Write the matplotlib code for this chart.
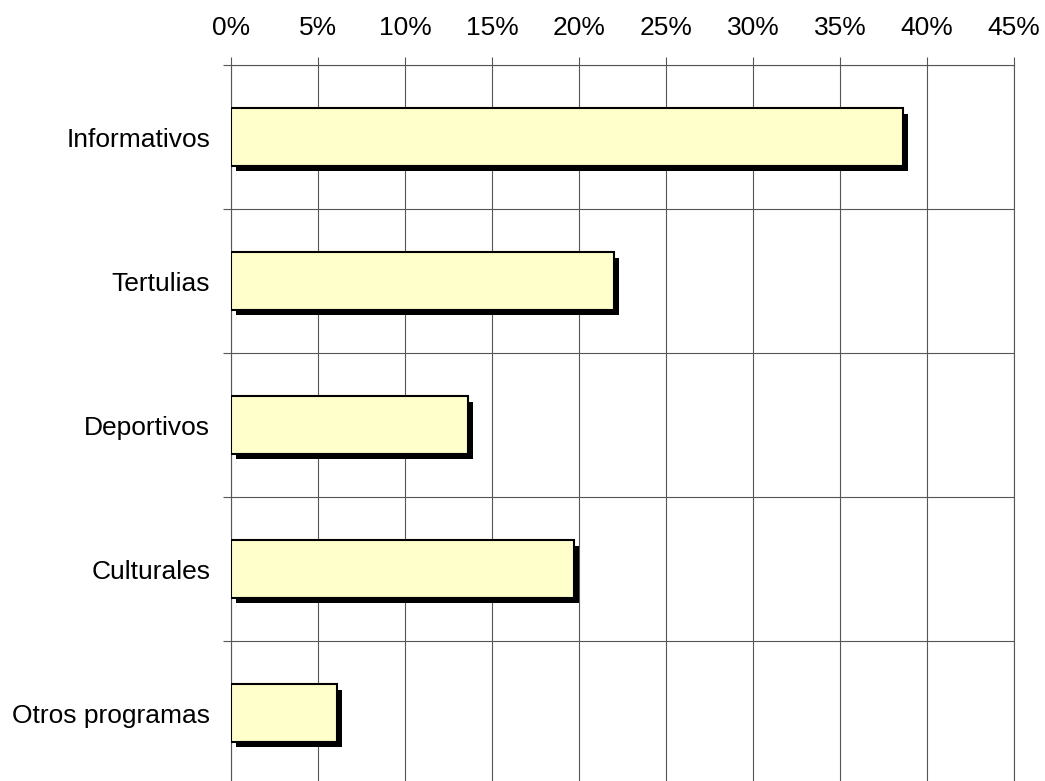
import numpy as np
import matplotlib
matplotlib.use('Agg')
import matplotlib.pyplot as plt
import matplotlib.patheffects as pe
from matplotlib.ticker import FixedLocator

plt.rcParams['font.family'] = ['Liberation Sans', 'DejaVu Sans']

# datos
categorias = ['Informativos', 'Tertulias', 'Deportivos', 'Culturales', 'Otros programas']
porcentajes = [38.6, 22.0, 13.6, 19.7, 6.1]
ticks_x = [0, 5, 10, 15, 20, 25, 30, 35, 40, 45]
etiquetas_x = [f'{t}%' for t in ticks_x]

W, H = 1045, 781
fig = plt.figure(figsize=(W / 100, H / 100), dpi=100)
ax = fig.add_axes([231 / W, 0, 783 / W, 716 / H])

pos = np.arange(len(categorias))
bars = ax.barh(pos, porcentajes, height=0.4, color='#FFFFCC', edgecolor='black',
               linewidth=1.5, zorder=3)
for b in bars:
    b.set_path_effects([pe.SimplePatchShadow(offset=(3.6, -4), shadow_rgbFace='black', alpha=1.0),
                        pe.Normal()])

ax.set_xlim(0, 45)
ax.set_ylim(4.472, -0.5)

ax.xaxis.tick_top()
ax.set_xticks(ticks_x)
ax.set_xticklabels(etiquetas_x, fontsize=19)
ax.tick_params(axis='x', which='major', direction='out', length=5.8, width=0.8,
               color='#555555', pad=12)

ax.set_yticks(pos)
ax.set_yticklabels(categorias, fontsize=19)
ax.tick_params(axis='y', which='major', length=0, pad=15)
ax.yaxis.set_minor_locator(FixedLocator(np.arange(len(categorias) + 1) - 0.5))
ax.tick_params(axis='y', which='minor', direction='out', length=5.8, width=0.8,
               color='#555555')

ax.grid(axis='x', which='major', color='#555555', linewidth=0.8, zorder=1)
ax.grid(axis='y', which='minor', color='#555555', linewidth=0.8, zorder=1)
ax.set_axisbelow(True)

for s in ['left', 'right', 'top']:
    ax.spines[s].set_color('#555555')
    ax.spines[s].set_linewidth(0.8)
ax.spines['bottom'].set_visible(False)

fig.savefig('out.png', dpi=100)
